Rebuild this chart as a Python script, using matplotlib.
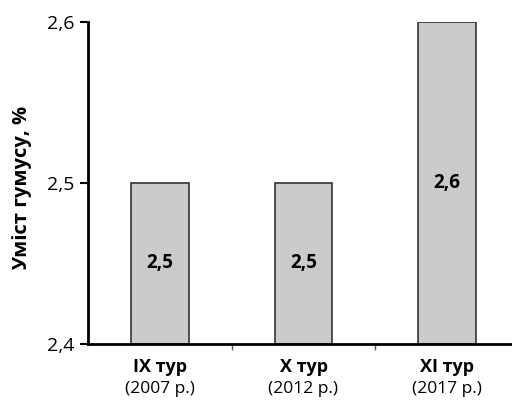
import matplotlib
matplotlib.use("Agg")
import matplotlib.pyplot as plt
from matplotlib.ticker import FuncFormatter, FixedLocator

rounds = ["IX тур", "X тур", "XI тур"]
years = ["(2007 р.)", "(2012 р.)", "(2017 р.)"]
humus = [2.5, 2.5, 2.6]
y_ticks = [2.4, 2.5, 2.6]

plt.rcParams["font.family"] = ["Open Sans", "DejaVu Sans"]


def comma(v, pos=None):
    return f"{v:.1f}".replace(".", ",")


def main():
    fig = plt.figure(figsize=(5.12, 4.01), dpi=100)
    ax = fig.add_axes([88 / 512, 1 - 344 / 401, 431 / 512, 322 / 401])

    base = y_ticks[0]
    x = list(range(len(rounds)))
    heights = [v - base for v in humus]
    ax.bar(x, heights, bottom=base, width=0.4, color="#cbcbcb",
           edgecolor="#333333", linewidth=1.2, zorder=2)

    for xi, v in zip(x, humus):
        ax.text(xi, (base + v) / 2, comma(v), ha="center", va="center",
                fontsize=13.5, fontweight="bold")

    ax.set_xlim(-0.5, 2.5)
    ax.set_ylim(y_ticks[0], y_ticks[-1])
    ax.set_yticks(y_ticks)
    ax.yaxis.set_major_formatter(FuncFormatter(comma))
    ax.tick_params(axis="y", direction="out", length=6, width=1.5,
                   labelsize=14, pad=4)

    # category separators on x axis
    ax.xaxis.set_major_locator(FixedLocator([0.5, 1.5]))
    ax.set_xticklabels([])
    ax.tick_params(axis="x", direction="out", length=4, width=1,
                   color="#555555")
    for xi, r, yr in zip(x, rounds, years):
        ax.text(xi, -0.072, r, transform=ax.get_xaxis_transform(),
                ha="center", va="center", fontsize=13, fontweight="bold")
        ax.text(xi, -0.14, yr, transform=ax.get_xaxis_transform(),
                ha="center", va="center", fontsize=12.5)

    ax.spines["top"].set_visible(False)
    ax.spines["right"].set_visible(False)
    ax.spines["left"].set_linewidth(2)
    ax.spines["bottom"].set_linewidth(2)

    fig.text(22 / 512, 1 - 188 / 401, "Уміст гумусу, %", rotation=90,
             ha="center", va="center", fontsize=14.5, fontweight="bold")

    fig.savefig("out.png", dpi=100)
    plt.close(fig)


if __name__ == "__main__":
    main()
